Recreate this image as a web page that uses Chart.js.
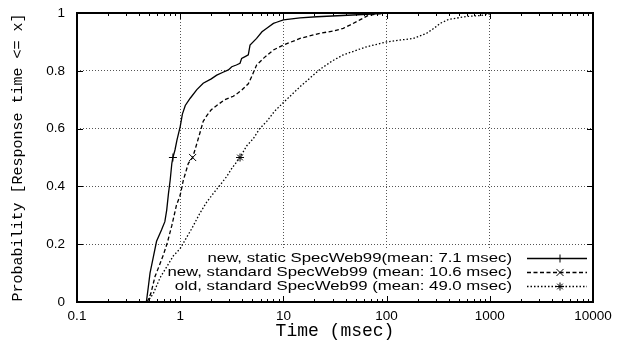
<!DOCTYPE html>
<html>
<head>
<meta charset="utf-8">
<script src="https://cdn.jsdelivr.net/npm/chart.js@4/dist/chart.umd.min.js"></script>
<style>
  html, body { margin: 0; padding: 0; background: #fff; }
  canvas { display: block; }
</style>
</head>
<body>
<canvas id="cdf" width="618" height="344"></canvas>
<script>
// Response time CDF for three SpecWeb99 runs (log time axis)

const STATIC_X = [0.47, 0.49, 0.51, 0.55, 0.59, 0.66, 0.71, 0.74, 0.77, 0.80, 0.83, 0.85, 0.89, 0.93, 1.0, 1.05, 1.12, 1.25, 1.45, 1.67, 2.0, 2.26, 2.6, 2.93, 3.16, 3.5, 3.8, 3.94, 4.3, 4.57, 4.75, 5.5, 6.2, 6.9, 8.0, 8.6, 10, 14.5, 21, 47, 80, 100, 1000];
const STATIC_Y = [0, 0.05, 0.10, 0.157, 0.21, 0.25, 0.278, 0.318, 0.376, 0.422, 0.48, 0.5, 0.526, 0.56, 0.607, 0.65, 0.68, 0.705, 0.735, 0.757, 0.772, 0.785, 0.795, 0.803, 0.814, 0.82, 0.826, 0.843, 0.85, 0.855, 0.889, 0.912, 0.935, 0.947, 0.964, 0.968, 0.976, 0.983, 0.987, 0.993, 0.997, 1, 1];

const STANDARD_X = [0.48, 0.52, 0.57, 0.64, 0.69, 0.75, 0.83, 0.92, 1.0, 1.07, 1.2, 1.32, 1.4, 1.55, 1.67, 1.81, 2.0, 2.26, 2.7, 3.27, 3.6, 4.0, 4.57, 4.93, 5.5, 6.4, 8.0, 10, 14.5, 22.6, 30, 38, 44, 55, 65, 80, 100, 1000];
const STANDARD_Y = [0, 0.03, 0.088, 0.134, 0.165, 0.205, 0.265, 0.335, 0.37, 0.42, 0.48, 0.5, 0.53, 0.584, 0.625, 0.645, 0.665, 0.68, 0.7, 0.712, 0.722, 0.735, 0.755, 0.78, 0.82, 0.843, 0.872, 0.889, 0.912, 0.93, 0.937, 0.947, 0.958, 0.976, 0.99, 0.997, 1, 1];

const OLD_X = [0.48, 0.55, 0.64, 0.75, 0.86, 1.0, 1.16, 1.3, 1.55, 1.8, 2.1, 2.5, 2.82, 3.2, 3.8, 4.4, 5.1, 5.9, 6.9, 8.2, 10, 14.5, 22.6, 30, 38, 50, 64, 100, 140, 182, 245, 290, 330, 400, 470, 600, 800, 1000, 1100, 2000];
const OLD_Y = [0, 0.03, 0.085, 0.125, 0.16, 0.185, 0.225, 0.255, 0.307, 0.345, 0.376, 0.41, 0.434, 0.465, 0.5, 0.54, 0.565, 0.6, 0.625, 0.66, 0.69, 0.745, 0.805, 0.835, 0.855, 0.87, 0.883, 0.9, 0.907, 0.912, 0.93, 0.948, 0.964, 0.978, 0.982, 0.988, 0.991, 0.997, 1, 1];

const SERIES_LABELS = [
  'new, static SpecWeb99(mean: 7.1 msec)',
  'new, standard SpecWeb99 (mean: 10.6 msec)',
  'old, standard SpecWeb99 (mean: 49.0 msec)',
];

const X_TICKS = [0.1, 1, 10, 100, 1000, 10000];
const X_TICK_LABELS = ['0.1', '1', '10', '100', '1000', '10000'];
const Y_TICKS = [0, 0.2, 0.4, 0.6, 0.8, 1];
const MARK_Y = 0.5;   // each curve carries its point marker at the median

const GRID = '#555';
const TEXT_FONT = 'Liberation Sans, Arial, sans-serif';
const MONO_FONT = 'Liberation Mono, Courier New, monospace';

// log minor ticks 2..9 inside each decade
const xAllTicks = [];
X_TICKS.forEach((d, i) => {
  xAllTicks.push(d);
  if (i < X_TICKS.length - 1) for (let k = 2; k <= 9; k++) xAllTicks.push(d * k);
});

const isDecade = v => X_TICKS.some(t => Math.abs(t - v) / t < 1e-9);
const decadeLabel = v => {
  const i = X_TICKS.findIndex(t => Math.abs(t - v) / t < 1e-9);
  return i < 0 ? '' : X_TICK_LABELS[i];
};

function series(label, xs, ys, dash, style, radius) {
  return {
    label,
    data: xs.map((x, i) => ({ x, y: ys[i] })),
    borderColor: '#000',
    borderWidth: 1.3,
    borderDash: dash,
    pointStyle: style,
    pointRadius: c => (c.raw && c.raw.y === MARK_Y ? radius : 0),
    pointHoverRadius: 0,
    pointBorderColor: '#000',
    pointBorderWidth: 1,
    tension: 0,
    fill: false,
    markRadius: radius,
  };
}

const datasets = [
  series(SERIES_LABELS[0], STATIC_X, STATIC_Y, [], 'cross', 4),
  series(SERIES_LABELS[1], STANDARD_X, STANDARD_Y, [4, 2.5], 'crossRot', 5),
  series(SERIES_LABELS[2], OLD_X, OLD_Y, [1.5, 2], 'star', 4),
];

// gnuplot-style key, bottom right, with opaque background
const keyBox = {
  id: 'keyBox',
  beforeDatasetsDraw(chart) {
    const { ctx, chartArea: a } = chart;
    ctx.save();
    ctx.fillStyle = '#fff';
    ctx.fillRect(a.right - 428, a.bottom - 52, 428, 52);

    chart.data.datasets.forEach((ds, i) => {
      const y = a.bottom - 44 + i * 14;
      ctx.save();
      ctx.translate(a.right - 81, y);
      ctx.scale(1.29, 1);
      ctx.fillStyle = '#000';
      ctx.font = '13px ' + TEXT_FONT;
      ctx.textAlign = 'right';
      ctx.textBaseline = 'middle';
      ctx.fillText(ds.label, 0, 0);
      ctx.restore();

      ctx.strokeStyle = '#000';
      ctx.lineWidth = ds.borderWidth;
      ctx.setLineDash(ds.borderDash);
      ctx.beginPath();
      ctx.moveTo(a.right - 66, y + 0.5);
      ctx.lineTo(a.right - 6, y + 0.5);
      ctx.stroke();
      ctx.setLineDash([]);
      ctx.lineWidth = 1;
      Chart.helpers.drawPoint(ctx, { pointStyle: ds.pointStyle, radius: ds.markRadius, rotation: 0, borderWidth: 1 }, a.right - 33, y + 0.5);
    });
    ctx.restore();
  },
};

// border box plus inward tick marks on all four sides
const frame = {
  id: 'frame',
  afterDraw(chart) {
    const { ctx, chartArea: a, scales: { x, y } } = chart;
    ctx.save();
    ctx.strokeStyle = '#000';
    ctx.lineWidth = 1;
    ctx.beginPath();
    xAllTicks.forEach(v => {
      const px = Math.round(x.getPixelForValue(v)) + 0.5;
      const len = isDecade(v) ? 6 : 3;
      ctx.moveTo(px, a.bottom); ctx.lineTo(px, a.bottom - len);
      ctx.moveTo(px, a.top); ctx.lineTo(px, a.top + len);
    });
    Y_TICKS.forEach(v => {
      const py = Math.round(y.getPixelForValue(v)) + 0.5;
      ctx.moveTo(a.left, py); ctx.lineTo(a.left + 6, py);
      ctx.moveTo(a.right, py); ctx.lineTo(a.right - 6, py);
    });
    ctx.stroke();
    ctx.lineWidth = 2;
    ctx.strokeRect(a.left, a.top, a.right - a.left, a.bottom - a.top);
    ctx.restore();
  },
};

new Chart(document.getElementById('cdf'), {
  type: 'line',
  data: { datasets },
  plugins: [keyBox, frame],
  options: {
    responsive: false,
    animation: false,
    events: [],
    layout: { padding: { left: 0, right: 25, top: 13, bottom: 0 } },
    plugins: { legend: { display: false }, tooltip: { enabled: false } },
    scales: {
      x: {
        type: 'logarithmic',
        min: 0.1,
        max: 10000,
        afterBuildTicks: s => { s.ticks = xAllTicks.map(v => ({ value: v })); },
        afterFit: s => { s.height = 42; },
        ticks: {
          autoSkip: false,
          maxRotation: 0,
          padding: 6,
          color: '#000',
          font: { family: TEXT_FONT, size: 13.5 },
          callback: v => decadeLabel(v),
        },
        grid: {
          drawTicks: false,
          lineWidth: 1,
          color: c => (c.tick && isDecade(c.tick.value) && c.tick.value > 0.1 && c.tick.value < 10000 ? GRID : 'rgba(0,0,0,0)'),
        },
        border: { display: false, dash: [1, 2] },
        title: {
          display: true,
          text: 'Time (msec)',
          color: '#000',
          font: { family: MONO_FONT, size: 18 },
          padding: { top: 0, bottom: 2 },
        },
      },
      y: {
        type: 'linear',
        min: 0,
        max: 1,
        afterBuildTicks: s => { s.ticks = Y_TICKS.map(v => ({ value: v })); },
        // fixed gutter; drop the label overhang so the plot can reach the top padding
        afterFit: s => { s.width = 77; s.paddingTop = 0; s.paddingBottom = 0; },
        ticks: {
          padding: 12,
          color: '#000',
          font: { family: TEXT_FONT, size: 13.5 },
          callback: v => String(v),
        },
        grid: {
          drawTicks: false,
          lineWidth: 1,
          color: c => (c.tick && c.tick.value > 0.01 && c.tick.value < 0.99 ? GRID : 'rgba(0,0,0,0)'),
        },
        border: { display: false, dash: [1, 2] },
        title: {
          display: true,
          text: 'Probability [Response time <= x]',
          color: '#000',
          font: { family: MONO_FONT, size: 15 },
          padding: { top: 9, bottom: 0 },
        },
      },
    },
  },
});
</script>
</body>
</html>
